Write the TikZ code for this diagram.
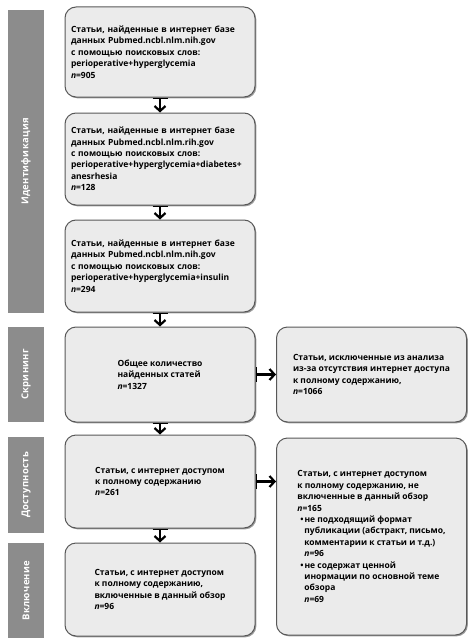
\documentclass[tikz,border=0pt]{standalone}
\usepackage{fontspec}
\setmainfont{Open Sans}
\newfontfamily\barfont[LetterSpace=3]{Open Sans}
\usetikzlibrary{arrows.meta,shadows}

\definecolor{boxgray}{HTML}{EBEBEB}
\definecolor{edgegray}{HTML}{585858}
\definecolor{bargray}{HTML}{8C8C8C}

\begin{document}
\begin{tikzpicture}[x=1pt,y=-1pt,
    box/.style={draw=edgegray, line width=1pt, fill=boxgray, rounded corners=11pt,
        minimum width=190pt, align=left, inner sep=0pt,
        font=\fontsize{8.5}{11.4}\selectfont\bfseries,
        drop shadow={shadow xshift=1.3pt, shadow yshift=-1.3pt, opacity=0.55, fill=black!70}},
    phase/.style={fill=bargray, minimum width=36pt, inner sep=0pt},
    phasetext/.style={rotate=90, text=white, font=\barfont\fontsize{9.5}{11}\selectfont\bfseries},
    step arrow/.style={line width=2.8pt,
        {Bar[width=15pt,line width=1.2pt]}-{Straight Barb[length=5pt,width=11pt,line width=2.2pt]}}]
    \useasboundingbox (0,0) rectangle (474,642);

    % phase bars on the left
    \node[phase, minimum height=303pt] (p1) at (26,161.5) {};
    \node[phasetext] at (p1) {Идентификация};
    \node[phase, minimum height=95pt] (p2) at (26,374.5) {};
    \node[phasetext] at (p2) {Скрининг};
    \node[phase, minimum height=96pt] (p3) at (26,485) {};
    \node[phasetext] at (p3) {Доступность};
    \node[phase, minimum height=95pt] (p4) at (26,590.5) {};
    \node[phasetext] at (p4) {Включение};

    % search boxes
    \node[box, minimum height=90pt, text width=178pt, align=left] (s1) at (160,52)
        {Статьи, найденные в интернет базе\\
         данных Pubmed.ncbl.nlm.nih.gov\\
         с помощью поисковых слов:\\
         perioperative+hyperglycemia\\
         \textit{n}=905};
    \node[box, minimum height=92pt, text width=178pt, align=left] (s2) at (160,159)
        {Статьи, найденные в интернет базе\\
         данных Pubmed.ncbl.nlm.rih.gov\\
         с помощью поисковых слов:\\
         perioperative+hyperglycemia+diabetes+\\
         anesrhesia\\
         \textit{n}=128};
    \node[box, minimum height=92pt, text width=178pt, align=left] (s3) at (160,266)
        {Статьи, найденные в интернет базе\\
         данных Pubmed.ncbl.nlm.nih.gov\\
         с помощью поисковых слов:\\
         perioperative+hyperglycemia+insulin\\
         \textit{n}=294};

    % screening
    \node[box, minimum height=95pt] (total) at (160,374.5)
        {Общее количество\\
         найденных статей\\
         \textit{n}=1327};
    \node[box, minimum height=95pt] (excl) at (371.5,374.5)
        {Статьи, исключенные из анализа\\
         из-за отсутствия интернет доступа\\
         к полному содержанию,\\
         \textit{n}=1066};

    % access
    \node[box, minimum height=93pt] (full) at (160,481.5)
        {Статьи, с интернет доступом\\
         к полному содержанию\\
         \textit{n}=261};
    \node[box, minimum height=197pt] (notincl) at (371.5,536.5)
        {Статьи, с интернет доступом\\
         к полному содержанию, не\\
         включенные в данный обзор\\
         \textit{n}=165\\
         \hspace*{3pt}\textbullet\hspace{1pt}не подходящий формат\\
         \hspace*{7pt}публикации (абстракт, письмо,\\
         \hspace*{7pt}комментарии к статьи и т.д.)\\
         \hspace*{7pt}\textit{n}=96\\
         \hspace*{3pt}\textbullet\hspace{1pt}не содержат ценной\\
         \hspace*{7pt}инормации по основной теме\\
         \hspace*{7pt}обзора\\
         \hspace*{7pt}\textit{n}=69};

    % inclusion
    \node[box, minimum height=93pt] (incl) at (160,589.5)
        {Статьи, с интернет доступом\\
         к полному содержанию,\\
         включенные в данный обзор\\
         \textit{n}=96};

    % arrows
    \draw[step arrow] (s1) -- (s2);
    \draw[step arrow] (s2) -- (s3);
    \draw[step arrow] (s3) -- (total);
    \draw[step arrow] (total) -- (full);
    \draw[step arrow] (full) -- (incl);
    \draw[step arrow] (total) -- (excl);
    \draw[step arrow] (full.east) -- (full.east -| notincl.west);
\end{tikzpicture}
\end{document}
